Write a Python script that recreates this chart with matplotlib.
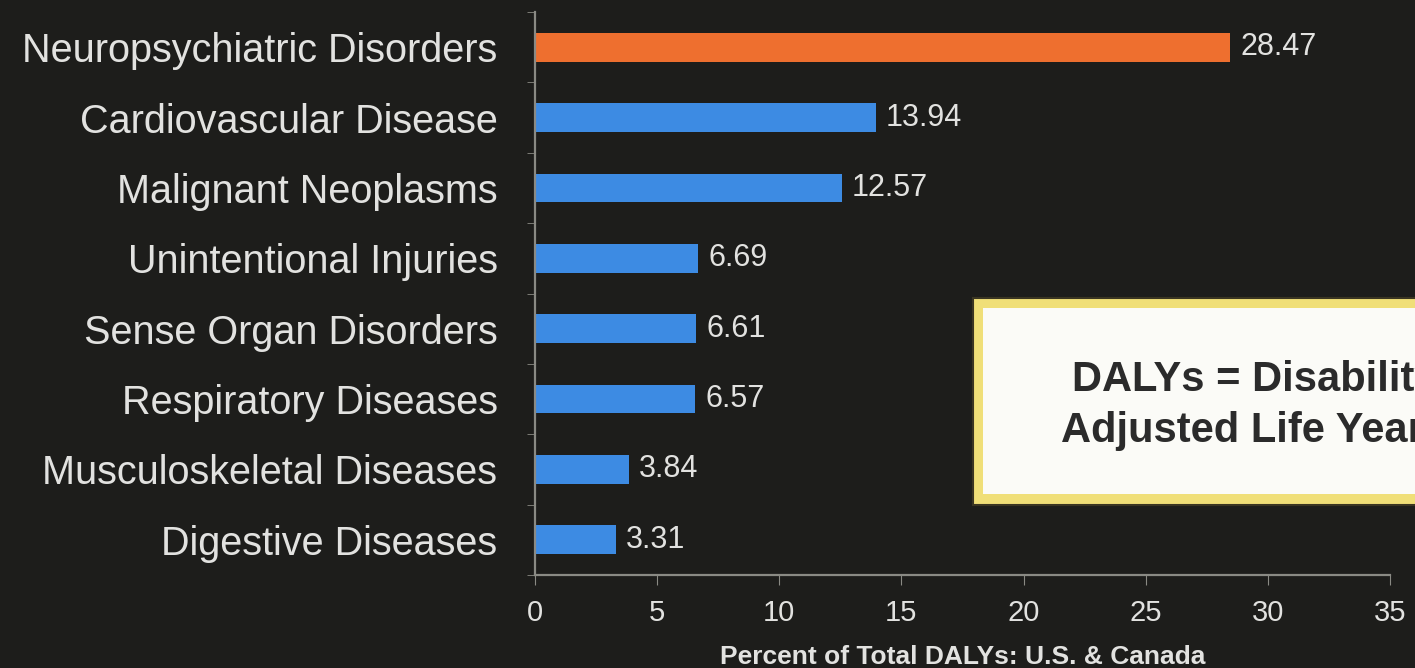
import numpy as np
import matplotlib.pyplot as plt
from matplotlib.patches import Rectangle

# percent of total DALYs, U.S. & Canada
categories = ["Neuropsychiatric Disorders", "Cardiovascular Disease",
              "Malignant Neoplasms", "Unintentional Injuries",
              "Sense Organ Disorders", "Respiratory Diseases",
              "Musculoskeletal Diseases", "Digestive Diseases"]
values = [28.47, 13.94, 12.57, 6.69, 6.61, 6.57, 3.84, 3.31]
xticks = [0, 5, 10, 15, 20, 25, 30, 35]

bg = "#1d1d1b"
txt = "#e2e2e0"
axcol = "#8a8a84"
orange = "#ee6f2f"
blue = "#3d8be3"

plt.rcParams['font.family'] = ['Liberation Sans', 'DejaVu Sans']

W, H = 1415, 668
fig = plt.figure(figsize=(W / 100, H / 100), dpi=100, facecolor=bg)
ax = fig.add_axes([535 / W, 1 - 575 / H, 855 / W, 563 / H], facecolor=bg)

y = np.arange(len(categories))
colors = [orange] + [blue] * (len(categories) - 1)
ax.barh(y, values, height=0.41, color=colors, zorder=2)
for yi, v in zip(y, values):
    ax.text(v + 0.4, yi, f"{v:.2f}", va="center", ha="left",
            fontsize=22, color=txt)

ax.set_ylim(len(categories) - 0.5, -0.5)
ax.set_xlim(0, 35)
ax.set_yticks(y)
ax.set_yticklabels(categories, fontsize=28.5, color=txt)
ax.set_yticks(np.arange(-0.5, len(categories)), minor=True)
ax.tick_params(axis="y", which="major", length=0, pad=27)
ax.tick_params(axis="y", which="minor", length=6, color=axcol, direction="out")
ax.set_xticks(xticks)
ax.set_xticklabels([str(t) for t in xticks], fontsize=21, color=txt)
ax.tick_params(axis="x", length=7, color=axcol, pad=10)
ax.set_xlabel("Percent of Total DALYs: U.S. & Canada", fontsize=19,
              fontweight="bold", color=txt, va="center")
ax.xaxis.set_label_coords(0.5, -0.146)

for s in ["top", "right"]:
    ax.spines[s].set_visible(False)
for s in ["left", "bottom"]:
    ax.spines[s].set_color(axcol)
    ax.spines[s].set_linewidth(1.6)

# definition box, running off the right edge
outer = Rectangle((973 / W, 1 - 505 / H), 470 / W, 207 / H,
                  transform=fig.transFigure, facecolor="#f0df78",
                  edgecolor="#3a3522", linewidth=1.5, zorder=5)
inner = Rectangle((983 / W, 1 - 494 / H), 460 / W, 186 / H,
                  transform=fig.transFigure, facecolor="#fbfbf7",
                  edgecolor="none", zorder=6)
fig.patches.extend([outer, inner])
fig.text(1072 / W, 1 - 391 / H, "DALYs = Disability-", fontsize=30,
         fontweight="bold", color="#2b2b2b", va="baseline", ha="left", zorder=7)
fig.text(1061 / W, 1 - 442 / H, "Adjusted Life Years", fontsize=30,
         fontweight="bold", color="#2b2b2b", va="baseline", ha="left", zorder=7)

fig.savefig("out.png", dpi=100, facecolor=bg)
